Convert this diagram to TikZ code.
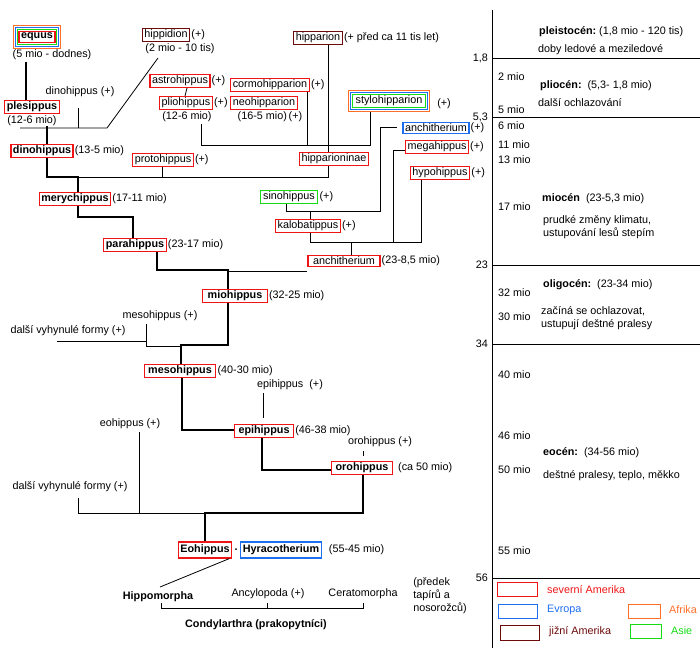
\documentclass[tikz,border=0pt]{standalone}
\usepackage{fontspec}
\setmainfont{Liberation Sans}
\usetikzlibrary{fit,calc}
\definecolor{rd}{RGB}{240,20,20}
\definecolor{bl}{RGB}{30,110,240}
\definecolor{gr}{RGB}{20,220,20}
\definecolor{orr}{RGB}{255,110,40}
\definecolor{br}{RGB}{110,10,10}
\begin{document}
\begin{tikzpicture}[x=1pt,y=-1pt,
  every node/.style={font=\fontsize{10.8}{13}\selectfont,inner sep=1pt},
  bx/.style={draw=#1,line width=1.2pt,inner xsep=2pt,inner ysep=1.5pt},
  B/.style={font=\fontsize{10.8}{13}\selectfont\bfseries},
  th/.style={line width=2.2pt},
  tn/.style={line width=0.8pt},
  tl/.style={line width=1pt}]
\useasboundingbox (0,0) rectangle (700,648);
% timeline
\draw[tl] (492,10) -- (492,648);
\foreach \y/\t in {58/{1,8},117/{5,3},265/23,344/34,578/56}{
  \draw[tl] (492,\y) -- (700,\y);
  \node[anchor=east] at (489,\y) {\t};}
\foreach \y/\t in {77/2 mio,110/5 mio,126/6 mio,145/11 mio,160/13 mio,207/17 mio,293/32 mio,317/30 mio,375/40 mio,436/46 mio,470/50 mio,551/55 mio}
  \node[anchor=west] at (497,\y) {\t};
\node[anchor=west] at (538,32) {\textbf{pleistocén:}\ (1,8 mio - 120 tis)};
\node[anchor=west] at (537,50) {doby ledové a meziledové};
\node[anchor=west] at (539,86) {\textbf{pliocén:}\ \ (5,3- 1,8 mio)};
\node[anchor=west] at (537,103) {další ochlazování};
\node[anchor=west] at (541,199) {\textbf{miocén}\ \ (23-5,3 mio)};
\node[anchor=west,align=left] at (542,227) {prudké změny klimatu,\\ustupování lesů stepím};
\node[anchor=west] at (542,285) {\textbf{oligocén:}\ \ (23-34 mio)};
\node[anchor=west,align=left] at (540,318) {začíná se ochlazovat,\\ustupují deštné pralesy};
\node[anchor=west] at (542,453) {\textbf{eocén:}\ \ (34-56 mio)};
\node[anchor=west] at (542,476) {deštné pralesy, teplo, měkko};
% legend
\draw[rd,line width=1pt] (497,582) rectangle (537,596);
\node[anchor=west,text=rd] at (546,590) {severní Amerika};
\draw[bl,line width=1pt] (498,604) rectangle (537,618);
\node[anchor=west,text=bl] at (546,610) {Evropa};
\draw[orr,line width=1pt] (628,604) rectangle (660,618);
\node[anchor=west,text=orr] at (668,610) {Afrika};
\draw[br,line width=1pt] (500,625) rectangle (539,640);
\node[anchor=west,text=br] at (548,632) {jižní Amerika};
\draw[gr,line width=1pt] (630,624) rectangle (661,638);
\node[anchor=west,text=gr] at (670,631) {Asie};
% equus
\node[bx=rd,B] (equus) at (37,37) {equus};
\node[draw=gr,line width=1pt,fit=(equus),inner sep=1.3pt] (eq2) {};
\node[draw=bl,line width=1pt,fit=(eq2),inner sep=1.3pt] (eq3) {};
\node[draw=orr,line width=1pt,fit=(eq3),inner sep=1.3pt] (eq4) {};
\node at (52,55) {(5 mio - dodnes)};
\node[bx=rd,B] (plesippus) at (32,107) {plesippus};
\node at (32,121) {(12-6 mio)};
\draw[th] (26,62) -- (plesippus.north -| 26,0);
\node (dinop) at (80,92) {dinohippus (+)};
\coordinate (j1) at (107,128);
\draw[tn] (78,108) -- (78,128);
\node[bx=br] (hippidion) at (166,35) {hippidion};
\node[anchor=west] at (hippidion.east) {(+)};
\node at (180,49) {(2 mio - 10 tis)};
\draw[tn] (20,128) -- (j1) -- (158,58);
\node[bx=rd,B] (dinohippus) at (42,151) {dinohippus};
\node[anchor=west] at (dinohippus.east) {(13-5 mio)};
\draw[th] (47,126) -- (dinohippus.north -| 47,0);
% pliohippus group
\node[bx=rd] (astro) at (180,81) {astrohippus};
\node[anchor=west] at (astro.east) {(+)};
\node[bx=rd] (plio) at (186,103) {pliohippus};
\node[anchor=west] at (plio.east) {(+)};
\node at (187,117) {(12-6 mio)};
\draw[tn] (astro.south -| 187,0) -- (plio.north -| 185,0);
\node[bx=rd] (cormo) at (270,85) {cormohipparion};
\node[anchor=west] at (cormo.east) {(+)};
\node[bx=rd] (neo) at (264,103) {neohipparion};
\node at (270,117) {(16-5 mio)\,(+)};
\node[bx=br] (hipparion) at (318,38) {hipparion};
\node[anchor=west] at (hipparion.east) {(+ před ca 11 tis let)};
\node[bx=gr,line width=1pt,inner xsep=3pt] (stylo) at (389,101) {stylohipparion};
\node[draw=bl,line width=1pt,fit=(stylo),inner sep=1.2pt] (st2) {};
\node[draw=orr,line width=1pt,fit=(st2),inner sep=1.5pt] (st3) {};
\node at (444,104) {(+)};
\node[bx=rd] (hipparioninae) at (334,159) {hipparioninae};
\draw[tn] (201,124) -- (201,145) -- (370,145) -- (st3.south -| 370,0);
\draw[tn] (cormo.south -| 307,0) -- (307,145);
\draw[tn] (hipparion.south -| 328,0) -- (hipparioninae.north -| 328,0);
\node[bx=rd] (proto) at (163,160) {protohippus};
\node[anchor=west] at (proto.east) {(+)};
\draw[tn] (proto.south -| 162,0) -- (162,177);
\draw[tn] (78,177) -- (328,177) -- (hipparioninae.south -| 328,0);
\node[bx=rd,B] (mery) at (75,199) {merychippus};
\node[anchor=west] at (mery.east) {(17-11 mio)};
\draw[th] (dinohippus.south -| 47,0) -- (47,177) -- (78,177) -- (mery.north -| 78,0);
\node[bx=rd,B] (para) at (135,245) {parahippus};
\node[anchor=west] at (para.east) {(23-17 mio)};
\draw[th] (mery.south -| 78,0) -- (78,217) -- (133,217) -- (para.north -| 133,0);
% anchitherium cluster
\node[bx=rd,inner xsep=5pt] (anch) at (344,261) {anchitherium};
\node[anchor=west] at (anch.east) {(23-8,5 mio)};
\node[bx=rd] (kalo) at (308,226) {kalobatippus};
\node[anchor=west] at (kalo.east) {(+)};
\node[bx=gr,inner xsep=3pt] (sino) at (289,197) {sinohippus};
\node[anchor=west] at (sino.east) {(+)};
\node[bx=bl] (anchE) at (436,128) {anchitherium};
\node[anchor=west] at (anchE.east) {(+)};
\node[bx=rd] (mega) at (437,147) {megahippus};
\node[anchor=west] at (mega.east) {(+)};
\node[bx=rd] (hypo) at (440,173) {hypohippus};
\node[anchor=west] at (hypo.east) {(+)};
\draw[tn] (sino.south -| 286,0) -- (286,211) -- (380,211) -- (380,127) -- (397,127);
\draw[tn] (310,211) -- (kalo.north -| 310,0);
\draw[tn] (kalo.south -| 310,0) -- (310,242) -- (421,242) -- (hypo.south -| 421,0);
\draw[tn] (393,242) -- (393,150) -- (mega.west |- 0,150);
\draw[tn] (351,242) -- (anch.north -| 351,0);
\node[bx=rd,B,inner xsep=5pt] (mio) at (235,296) {miohippus};
\node[anchor=west] at (mio.east) {(32-25 mio)};
\draw[th] (para.south -| 157,0) -- (157,270) -- (228,270) -- (mio.north -| 228,0);
\draw[tn] (228,271) -- (anch.west |- 0,271);
\node at (160,316) {mesohippus (+)};
\node at (68,331) {další vyhynulé formy (+)};
\draw[tn] (57,341) -- (146,341);
\draw[tn] (146,324) -- (146,346) -- (181,346);
\node[bx=rd,B,inner xsep=4pt] (meso) at (180,371) {mesohippus};
\node[anchor=west] at (meso.east) {(40-30 mio)};
\draw[th] (mio.south -| 228,0) -- (228,345) -- (181,345) -- (meso.north -| 181,0);
\node at (290,385) {epihippus\ \ (+)};
\draw[tn] (263,393) -- (263,418);
\node[bx=rd,B,inner xsep=4pt] (epi) at (264,431) {epihippus};
\node[anchor=west] at (epi.east) {(46-38 mio)};
\draw[th] (meso.south -| 182,0) -- (182,430) -- (epi.west |- 0,430);
\node at (380,442) {orohippus (+)};
\draw[tn] (363,451) -- (363,456);
\node[bx=rd,B,inner xsep=4pt] (oro) at (362,468) {orohippus};
\node[anchor=west] at ([xshift=4pt]oro.east) {(ca 50 mio)};
\draw[th] (epi.south -| 262,0) -- (262,470) -- (oro.west |- 0,470);
\node at (130,424) {eohippus (+)};
\node at (70,487) {další vyhynulé formy (+)};
\node[bx=rd,B,inner ysep=3pt] (eo) at (205,550) {Eohippus};
\node[bx=bl,B,inner ysep=3pt] (hyra) at (281,550) {Hyracotherium};
\node at ($(eo.east)!0.5!(hyra.west)$) {\textbf{.}};
\node[anchor=west] at ([xshift=6pt]hyra.east) {(55-45 mio)};
\draw[tn] (78,498) -- (78,513) -- (205,513);
\draw[tn] (139,432) -- (139,513);
\draw[th] (oro.south -| 363,0) -- (363,513) -- (205,513) -- (eo.north -| 205,0);
\node[B] (hippo) at (158,597) {Hippomorpha};
\node (ancy) at (268,594) {Ancylopoda (+)};
\node (cera) at (363,594) {Ceratomorpha};
\node[align=left] at (440,596) {(předek\\ tapírů a\\ nosorožců)};
\draw[tn] ([xshift=-3pt]eo.south east) -- (160,587);
\draw[tn] (161,603) -- (161,608) -- (363,608) -- (363,603);
\draw[tn] (267,603) -- (267,608);
\node[B] (condy) at (256,625) {Condylarthra (prakopytníci)};
\end{tikzpicture}
\end{document}
